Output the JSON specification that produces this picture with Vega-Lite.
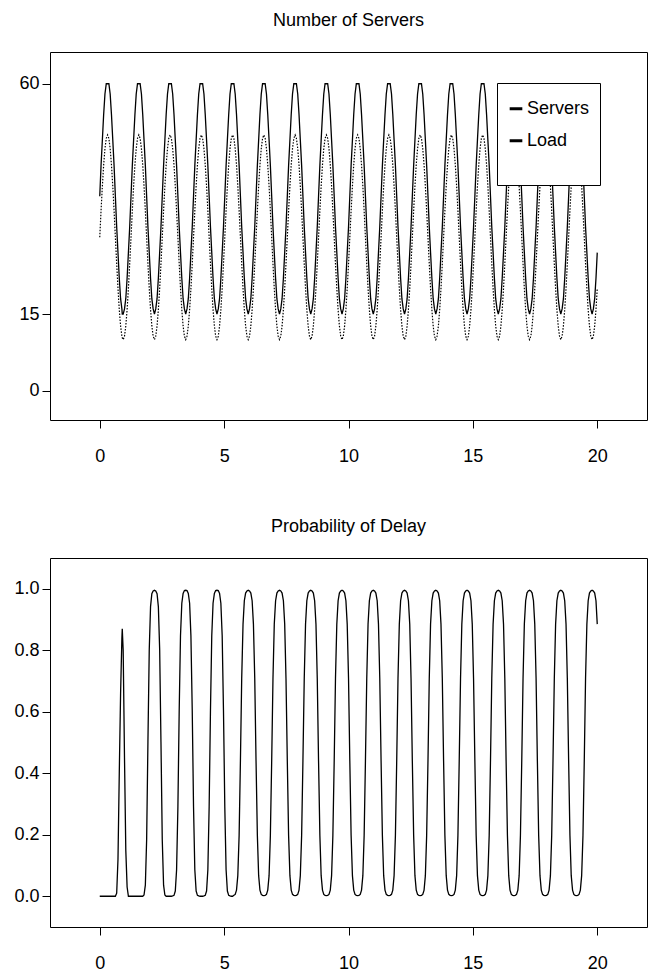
{
"$schema": "https://vega.github.io/schema/vega-lite/v6.json",
"background": "white",
"padding": {"left": 13, "top": 11, "right": 4, "bottom": 5},
"config": {
 "font": "Liberation Sans",
 "view": {"stroke": "black", "strokeWidth": 1},
 "axis": {"domain": false, "grid": false, "tickColor": "black", "tickSize": 8, "labelColor": "black", "labelFontSize": 18, "labelFont": "Liberation Sans", "title": null, "labelFlush": false},
 "axisX": {"labelPadding": 19},
 "axisY": {"labelPadding": 3},
 "title": {"fontSize": 18, "fontWeight": "normal", "color": "black", "offset": 22, "font": "Liberation Sans"}
},
"datasets": {"d": [
{"t":0,"Load":30,"Servers":38,"delay":0},
{"t":0.052,"Load":35.18,"Servers":44,"delay":0},
{"t":0.105,"Load":40,"Servers":49,"delay":0},
{"t":0.157,"Load":44.14,"Servers":54,"delay":0},
{"t":0.209,"Load":47.32,"Servers":58,"delay":0},
{"t":0.262,"Load":49.32,"Servers":60,"delay":0},
{"t":0.314,"Load":50,"Servers":60,"delay":0},
{"t":0.367,"Load":49.32,"Servers":60,"delay":0},
{"t":0.419,"Load":47.32,"Servers":58,"delay":0},
{"t":0.471,"Load":44.14,"Servers":54,"delay":0},
{"t":0.524,"Load":40,"Servers":49,"delay":0},
{"t":0.576,"Load":35.18,"Servers":44,"delay":0},
{"t":0.628,"Load":30,"Servers":38,"delay":0},
{"t":0.681,"Load":24.82,"Servers":32,"delay":0.01},
{"t":0.733,"Load":20,"Servers":27,"delay":0.12},
{"t":0.785,"Load":15.86,"Servers":22,"delay":0.4},
{"t":0.838,"Load":12.68,"Servers":18,"delay":0.66},
{"t":0.89,"Load":10.68,"Servers":16,"delay":0.84},
{"t":0.905,"Load":10.35,"Servers":15,"delay":0.87},
{"t":0.942,"Load":10,"Servers":15,"delay":0.8},
{"t":0.995,"Load":10.68,"Servers":16,"delay":0.45},
{"t":1.047,"Load":12.68,"Servers":18,"delay":0.15},
{"t":1.1,"Load":15.86,"Servers":22,"delay":0.03},
{"t":1.152,"Load":20,"Servers":27,"delay":0},
{"t":1.204,"Load":24.82,"Servers":32,"delay":0},
{"t":1.257,"Load":30,"Servers":38,"delay":0},
{"t":1.309,"Load":35.18,"Servers":44,"delay":0},
{"t":1.361,"Load":40,"Servers":49,"delay":0},
{"t":1.414,"Load":44.14,"Servers":54,"delay":0},
{"t":1.466,"Load":47.32,"Servers":58,"delay":0},
{"t":1.518,"Load":49.32,"Servers":60,"delay":0},
{"t":1.571,"Load":50,"Servers":60,"delay":0},
{"t":1.623,"Load":49.32,"Servers":60,"delay":0},
{"t":1.676,"Load":47.32,"Servers":58,"delay":0},
{"t":1.728,"Load":44.14,"Servers":54,"delay":0},
{"t":1.78,"Load":40,"Servers":49,"delay":0.004},
{"t":1.833,"Load":35.18,"Servers":44,"delay":0.036},
{"t":1.885,"Load":30,"Servers":38,"delay":0.184},
{"t":1.937,"Load":24.82,"Servers":32,"delay":0.502},
{"t":1.99,"Load":20,"Servers":27,"delay":0.802},
{"t":2.042,"Load":15.86,"Servers":22,"delay":0.942},
{"t":2.094,"Load":12.68,"Servers":18,"delay":0.984},
{"t":2.147,"Load":10.68,"Servers":16,"delay":0.993},
{"t":2.199,"Load":10,"Servers":15,"delay":0.995},
{"t":2.251,"Load":10.68,"Servers":16,"delay":0.993},
{"t":2.304,"Load":12.68,"Servers":18,"delay":0.984},
{"t":2.356,"Load":15.86,"Servers":22,"delay":0.942},
{"t":2.409,"Load":20,"Servers":27,"delay":0.802},
{"t":2.461,"Load":24.82,"Servers":32,"delay":0.502},
{"t":2.513,"Load":30,"Servers":38,"delay":0.184},
{"t":2.566,"Load":35.18,"Servers":44,"delay":0.036},
{"t":2.618,"Load":40,"Servers":49,"delay":0.004},
{"t":2.67,"Load":44.14,"Servers":54,"delay":0},
{"t":2.723,"Load":47.32,"Servers":58,"delay":0},
{"t":2.775,"Load":49.32,"Servers":60,"delay":0},
{"t":2.827,"Load":50,"Servers":60,"delay":0},
{"t":2.88,"Load":49.32,"Servers":60,"delay":0},
{"t":2.932,"Load":47.32,"Servers":58,"delay":0.001},
{"t":2.985,"Load":44.14,"Servers":54,"delay":0.003},
{"t":3.037,"Load":40,"Servers":49,"delay":0.017},
{"t":3.089,"Load":35.18,"Servers":44,"delay":0.086},
{"t":3.142,"Load":30,"Servers":38,"delay":0.291},
{"t":3.194,"Load":24.82,"Servers":32,"delay":0.605},
{"t":3.246,"Load":20,"Servers":27,"delay":0.847},
{"t":3.299,"Load":15.86,"Servers":22,"delay":0.953},
{"t":3.351,"Load":12.68,"Servers":18,"delay":0.985},
{"t":3.403,"Load":10.68,"Servers":16,"delay":0.994},
{"t":3.456,"Load":10,"Servers":15,"delay":0.995},
{"t":3.508,"Load":10.68,"Servers":16,"delay":0.994},
{"t":3.56,"Load":12.68,"Servers":18,"delay":0.985},
{"t":3.613,"Load":15.86,"Servers":22,"delay":0.953},
{"t":3.665,"Load":20,"Servers":27,"delay":0.847},
{"t":3.718,"Load":24.82,"Servers":32,"delay":0.605},
{"t":3.77,"Load":30,"Servers":38,"delay":0.291},
{"t":3.822,"Load":35.18,"Servers":44,"delay":0.086},
{"t":3.875,"Load":40,"Servers":49,"delay":0.017},
{"t":3.927,"Load":44.14,"Servers":54,"delay":0.003},
{"t":3.979,"Load":47.32,"Servers":58,"delay":0.001},
{"t":4.032,"Load":49.32,"Servers":60,"delay":0},
{"t":4.084,"Load":50,"Servers":60,"delay":0},
{"t":4.136,"Load":49.32,"Servers":60,"delay":0},
{"t":4.189,"Load":47.32,"Servers":58,"delay":0.001},
{"t":4.241,"Load":44.14,"Servers":54,"delay":0.003},
{"t":4.294,"Load":40,"Servers":49,"delay":0.017},
{"t":4.346,"Load":35.18,"Servers":44,"delay":0.086},
{"t":4.398,"Load":30,"Servers":38,"delay":0.291},
{"t":4.451,"Load":24.82,"Servers":32,"delay":0.605},
{"t":4.503,"Load":20,"Servers":27,"delay":0.847},
{"t":4.555,"Load":15.86,"Servers":22,"delay":0.953},
{"t":4.608,"Load":12.68,"Servers":18,"delay":0.985},
{"t":4.66,"Load":10.68,"Servers":16,"delay":0.994},
{"t":4.712,"Load":10,"Servers":15,"delay":0.995},
{"t":4.765,"Load":10.68,"Servers":16,"delay":0.994},
{"t":4.817,"Load":12.68,"Servers":18,"delay":0.985},
{"t":4.869,"Load":15.86,"Servers":22,"delay":0.953},
{"t":4.922,"Load":20,"Servers":27,"delay":0.847},
{"t":4.974,"Load":24.82,"Servers":32,"delay":0.605},
{"t":5.027,"Load":30,"Servers":38,"delay":0.291},
{"t":5.079,"Load":35.18,"Servers":44,"delay":0.086},
{"t":5.131,"Load":40,"Servers":49,"delay":0.017},
{"t":5.184,"Load":44.14,"Servers":54,"delay":0.003},
{"t":5.236,"Load":47.32,"Servers":58,"delay":0.001},
{"t":5.288,"Load":49.32,"Servers":60,"delay":0},
{"t":5.341,"Load":50,"Servers":60,"delay":0},
{"t":5.393,"Load":49.32,"Servers":60,"delay":0.003},
{"t":5.445,"Load":47.32,"Servers":58,"delay":0.006},
{"t":5.498,"Load":44.14,"Servers":54,"delay":0.02},
{"t":5.55,"Load":40,"Servers":49,"delay":0.067},
{"t":5.603,"Load":35.18,"Servers":44,"delay":0.198},
{"t":5.655,"Load":30,"Servers":38,"delay":0.44},
{"t":5.707,"Load":24.82,"Servers":32,"delay":0.709},
{"t":5.76,"Load":20,"Servers":27,"delay":0.885},
{"t":5.812,"Load":15.86,"Servers":22,"delay":0.961},
{"t":5.864,"Load":12.68,"Servers":18,"delay":0.986},
{"t":5.917,"Load":10.68,"Servers":16,"delay":0.993},
{"t":5.969,"Load":10,"Servers":15,"delay":0.995},
{"t":6.021,"Load":10.68,"Servers":16,"delay":0.993},
{"t":6.074,"Load":12.68,"Servers":18,"delay":0.986},
{"t":6.126,"Load":15.86,"Servers":22,"delay":0.961},
{"t":6.178,"Load":20,"Servers":27,"delay":0.885},
{"t":6.231,"Load":24.82,"Servers":32,"delay":0.709},
{"t":6.283,"Load":30,"Servers":38,"delay":0.44},
{"t":6.336,"Load":35.18,"Servers":44,"delay":0.198},
{"t":6.388,"Load":40,"Servers":49,"delay":0.067},
{"t":6.44,"Load":44.14,"Servers":54,"delay":0.02},
{"t":6.493,"Load":47.32,"Servers":58,"delay":0.006},
{"t":6.545,"Load":49.32,"Servers":60,"delay":0.003},
{"t":6.597,"Load":50,"Servers":60,"delay":0.002},
{"t":6.65,"Load":49.32,"Servers":60,"delay":0.003},
{"t":6.702,"Load":47.32,"Servers":58,"delay":0.006},
{"t":6.754,"Load":44.14,"Servers":54,"delay":0.02},
{"t":6.807,"Load":40,"Servers":49,"delay":0.067},
{"t":6.859,"Load":35.18,"Servers":44,"delay":0.198},
{"t":6.912,"Load":30,"Servers":38,"delay":0.44},
{"t":6.964,"Load":24.82,"Servers":32,"delay":0.709},
{"t":7.016,"Load":20,"Servers":27,"delay":0.885},
{"t":7.069,"Load":15.86,"Servers":22,"delay":0.961},
{"t":7.121,"Load":12.68,"Servers":18,"delay":0.986},
{"t":7.173,"Load":10.68,"Servers":16,"delay":0.993},
{"t":7.226,"Load":10,"Servers":15,"delay":0.995},
{"t":7.278,"Load":10.68,"Servers":16,"delay":0.993},
{"t":7.33,"Load":12.68,"Servers":18,"delay":0.986},
{"t":7.383,"Load":15.86,"Servers":22,"delay":0.961},
{"t":7.435,"Load":20,"Servers":27,"delay":0.885},
{"t":7.487,"Load":24.82,"Servers":32,"delay":0.709},
{"t":7.54,"Load":30,"Servers":38,"delay":0.44},
{"t":7.592,"Load":35.18,"Servers":44,"delay":0.198},
{"t":7.645,"Load":40,"Servers":49,"delay":0.067},
{"t":7.697,"Load":44.14,"Servers":54,"delay":0.02},
{"t":7.749,"Load":47.32,"Servers":58,"delay":0.006},
{"t":7.802,"Load":49.32,"Servers":60,"delay":0.003},
{"t":7.854,"Load":50,"Servers":60,"delay":0.002},
{"t":7.906,"Load":49.32,"Servers":60,"delay":0.003},
{"t":7.959,"Load":47.32,"Servers":58,"delay":0.006},
{"t":8.011,"Load":44.14,"Servers":54,"delay":0.02},
{"t":8.063,"Load":40,"Servers":49,"delay":0.067},
{"t":8.116,"Load":35.18,"Servers":44,"delay":0.198},
{"t":8.168,"Load":30,"Servers":38,"delay":0.44},
{"t":8.221,"Load":24.82,"Servers":32,"delay":0.709},
{"t":8.273,"Load":20,"Servers":27,"delay":0.885},
{"t":8.325,"Load":15.86,"Servers":22,"delay":0.961},
{"t":8.378,"Load":12.68,"Servers":18,"delay":0.986},
{"t":8.43,"Load":10.68,"Servers":16,"delay":0.993},
{"t":8.482,"Load":10,"Servers":15,"delay":0.995},
{"t":8.535,"Load":10.68,"Servers":16,"delay":0.993},
{"t":8.587,"Load":12.68,"Servers":18,"delay":0.986},
{"t":8.639,"Load":15.86,"Servers":22,"delay":0.961},
{"t":8.692,"Load":20,"Servers":27,"delay":0.885},
{"t":8.744,"Load":24.82,"Servers":32,"delay":0.709},
{"t":8.796,"Load":30,"Servers":38,"delay":0.44},
{"t":8.849,"Load":35.18,"Servers":44,"delay":0.198},
{"t":8.901,"Load":40,"Servers":49,"delay":0.067},
{"t":8.954,"Load":44.14,"Servers":54,"delay":0.02},
{"t":9.006,"Load":47.32,"Servers":58,"delay":0.006},
{"t":9.058,"Load":49.32,"Servers":60,"delay":0.003},
{"t":9.111,"Load":50,"Servers":60,"delay":0.002},
{"t":9.163,"Load":49.32,"Servers":60,"delay":0.003},
{"t":9.215,"Load":47.32,"Servers":58,"delay":0.006},
{"t":9.268,"Load":44.14,"Servers":54,"delay":0.02},
{"t":9.32,"Load":40,"Servers":49,"delay":0.067},
{"t":9.372,"Load":35.18,"Servers":44,"delay":0.198},
{"t":9.425,"Load":30,"Servers":38,"delay":0.44},
{"t":9.477,"Load":24.82,"Servers":32,"delay":0.709},
{"t":9.53,"Load":20,"Servers":27,"delay":0.885},
{"t":9.582,"Load":15.86,"Servers":22,"delay":0.961},
{"t":9.634,"Load":12.68,"Servers":18,"delay":0.986},
{"t":9.687,"Load":10.68,"Servers":16,"delay":0.993},
{"t":9.739,"Load":10,"Servers":15,"delay":0.995},
{"t":9.791,"Load":10.68,"Servers":16,"delay":0.993},
{"t":9.844,"Load":12.68,"Servers":18,"delay":0.986},
{"t":9.896,"Load":15.86,"Servers":22,"delay":0.961},
{"t":9.948,"Load":20,"Servers":27,"delay":0.885},
{"t":10.001,"Load":24.82,"Servers":32,"delay":0.709},
{"t":10.053,"Load":30,"Servers":38,"delay":0.44},
{"t":10.105,"Load":35.18,"Servers":44,"delay":0.198},
{"t":10.158,"Load":40,"Servers":49,"delay":0.067},
{"t":10.21,"Load":44.14,"Servers":54,"delay":0.02},
{"t":10.263,"Load":47.32,"Servers":58,"delay":0.006},
{"t":10.315,"Load":49.32,"Servers":60,"delay":0.003},
{"t":10.367,"Load":50,"Servers":60,"delay":0.002},
{"t":10.42,"Load":49.32,"Servers":60,"delay":0.003},
{"t":10.472,"Load":47.32,"Servers":58,"delay":0.006},
{"t":10.524,"Load":44.14,"Servers":54,"delay":0.02},
{"t":10.577,"Load":40,"Servers":49,"delay":0.067},
{"t":10.629,"Load":35.18,"Servers":44,"delay":0.198},
{"t":10.681,"Load":30,"Servers":38,"delay":0.44},
{"t":10.734,"Load":24.82,"Servers":32,"delay":0.709},
{"t":10.786,"Load":20,"Servers":27,"delay":0.885},
{"t":10.839,"Load":15.86,"Servers":22,"delay":0.961},
{"t":10.891,"Load":12.68,"Servers":18,"delay":0.986},
{"t":10.943,"Load":10.68,"Servers":16,"delay":0.993},
{"t":10.996,"Load":10,"Servers":15,"delay":0.995},
{"t":11.048,"Load":10.68,"Servers":16,"delay":0.993},
{"t":11.1,"Load":12.68,"Servers":18,"delay":0.986},
{"t":11.153,"Load":15.86,"Servers":22,"delay":0.961},
{"t":11.205,"Load":20,"Servers":27,"delay":0.885},
{"t":11.257,"Load":24.82,"Servers":32,"delay":0.709},
{"t":11.31,"Load":30,"Servers":38,"delay":0.44},
{"t":11.362,"Load":35.18,"Servers":44,"delay":0.198},
{"t":11.414,"Load":40,"Servers":49,"delay":0.067},
{"t":11.467,"Load":44.14,"Servers":54,"delay":0.02},
{"t":11.519,"Load":47.32,"Servers":58,"delay":0.006},
{"t":11.572,"Load":49.32,"Servers":60,"delay":0.003},
{"t":11.624,"Load":50,"Servers":60,"delay":0.002},
{"t":11.676,"Load":49.32,"Servers":60,"delay":0.003},
{"t":11.729,"Load":47.32,"Servers":58,"delay":0.006},
{"t":11.781,"Load":44.14,"Servers":54,"delay":0.02},
{"t":11.833,"Load":40,"Servers":49,"delay":0.067},
{"t":11.886,"Load":35.18,"Servers":44,"delay":0.198},
{"t":11.938,"Load":30,"Servers":38,"delay":0.44},
{"t":11.99,"Load":24.82,"Servers":32,"delay":0.709},
{"t":12.043,"Load":20,"Servers":27,"delay":0.885},
{"t":12.095,"Load":15.86,"Servers":22,"delay":0.961},
{"t":12.147,"Load":12.68,"Servers":18,"delay":0.986},
{"t":12.2,"Load":10.68,"Servers":16,"delay":0.993},
{"t":12.252,"Load":10,"Servers":15,"delay":0.995},
{"t":12.305,"Load":10.68,"Servers":16,"delay":0.993},
{"t":12.357,"Load":12.68,"Servers":18,"delay":0.986},
{"t":12.409,"Load":15.86,"Servers":22,"delay":0.961},
{"t":12.462,"Load":20,"Servers":27,"delay":0.885},
{"t":12.514,"Load":24.82,"Servers":32,"delay":0.709},
{"t":12.566,"Load":30,"Servers":38,"delay":0.44},
{"t":12.619,"Load":35.18,"Servers":44,"delay":0.198},
{"t":12.671,"Load":40,"Servers":49,"delay":0.067},
{"t":12.723,"Load":44.14,"Servers":54,"delay":0.02},
{"t":12.776,"Load":47.32,"Servers":58,"delay":0.006},
{"t":12.828,"Load":49.32,"Servers":60,"delay":0.003},
{"t":12.881,"Load":50,"Servers":60,"delay":0.002},
{"t":12.933,"Load":49.32,"Servers":60,"delay":0.003},
{"t":12.985,"Load":47.32,"Servers":58,"delay":0.006},
{"t":13.038,"Load":44.14,"Servers":54,"delay":0.02},
{"t":13.09,"Load":40,"Servers":49,"delay":0.067},
{"t":13.142,"Load":35.18,"Servers":44,"delay":0.198},
{"t":13.195,"Load":30,"Servers":38,"delay":0.44},
{"t":13.247,"Load":24.82,"Servers":32,"delay":0.709},
{"t":13.299,"Load":20,"Servers":27,"delay":0.885},
{"t":13.352,"Load":15.86,"Servers":22,"delay":0.961},
{"t":13.404,"Load":12.68,"Servers":18,"delay":0.986},
{"t":13.456,"Load":10.68,"Servers":16,"delay":0.993},
{"t":13.509,"Load":10,"Servers":15,"delay":0.995},
{"t":13.561,"Load":10.68,"Servers":16,"delay":0.993},
{"t":13.614,"Load":12.68,"Servers":18,"delay":0.986},
{"t":13.666,"Load":15.86,"Servers":22,"delay":0.961},
{"t":13.718,"Load":20,"Servers":27,"delay":0.885},
{"t":13.771,"Load":24.82,"Servers":32,"delay":0.709},
{"t":13.823,"Load":30,"Servers":38,"delay":0.44},
{"t":13.875,"Load":35.18,"Servers":44,"delay":0.198},
{"t":13.928,"Load":40,"Servers":49,"delay":0.067},
{"t":13.98,"Load":44.14,"Servers":54,"delay":0.02},
{"t":14.032,"Load":47.32,"Servers":58,"delay":0.006},
{"t":14.085,"Load":49.32,"Servers":60,"delay":0.003},
{"t":14.137,"Load":50,"Servers":60,"delay":0.002},
{"t":14.19,"Load":49.32,"Servers":60,"delay":0.003},
{"t":14.242,"Load":47.32,"Servers":58,"delay":0.006},
{"t":14.294,"Load":44.14,"Servers":54,"delay":0.02},
{"t":14.347,"Load":40,"Servers":49,"delay":0.067},
{"t":14.399,"Load":35.18,"Servers":44,"delay":0.198},
{"t":14.451,"Load":30,"Servers":38,"delay":0.44},
{"t":14.504,"Load":24.82,"Servers":32,"delay":0.709},
{"t":14.556,"Load":20,"Servers":27,"delay":0.885},
{"t":14.608,"Load":15.86,"Servers":22,"delay":0.961},
{"t":14.661,"Load":12.68,"Servers":18,"delay":0.986},
{"t":14.713,"Load":10.68,"Servers":16,"delay":0.993},
{"t":14.765,"Load":10,"Servers":15,"delay":0.995},
{"t":14.818,"Load":10.68,"Servers":16,"delay":0.993},
{"t":14.87,"Load":12.68,"Servers":18,"delay":0.986},
{"t":14.923,"Load":15.86,"Servers":22,"delay":0.961},
{"t":14.975,"Load":20,"Servers":27,"delay":0.885},
{"t":15.027,"Load":24.82,"Servers":32,"delay":0.709},
{"t":15.08,"Load":30,"Servers":38,"delay":0.44},
{"t":15.132,"Load":35.18,"Servers":44,"delay":0.198},
{"t":15.184,"Load":40,"Servers":49,"delay":0.067},
{"t":15.237,"Load":44.14,"Servers":54,"delay":0.02},
{"t":15.289,"Load":47.32,"Servers":58,"delay":0.006},
{"t":15.341,"Load":49.32,"Servers":60,"delay":0.003},
{"t":15.394,"Load":50,"Servers":60,"delay":0.002},
{"t":15.446,"Load":49.32,"Servers":60,"delay":0.003},
{"t":15.499,"Load":47.32,"Servers":58,"delay":0.006},
{"t":15.551,"Load":44.14,"Servers":54,"delay":0.02},
{"t":15.603,"Load":40,"Servers":49,"delay":0.067},
{"t":15.656,"Load":35.18,"Servers":44,"delay":0.198},
{"t":15.708,"Load":30,"Servers":38,"delay":0.44},
{"t":15.76,"Load":24.82,"Servers":32,"delay":0.709},
{"t":15.813,"Load":20,"Servers":27,"delay":0.885},
{"t":15.865,"Load":15.86,"Servers":22,"delay":0.961},
{"t":15.917,"Load":12.68,"Servers":18,"delay":0.986},
{"t":15.97,"Load":10.68,"Servers":16,"delay":0.993},
{"t":16.022,"Load":10,"Servers":15,"delay":0.995},
{"t":16.074,"Load":10.68,"Servers":16,"delay":0.993},
{"t":16.127,"Load":12.68,"Servers":18,"delay":0.986},
{"t":16.179,"Load":15.86,"Servers":22,"delay":0.961},
{"t":16.232,"Load":20,"Servers":27,"delay":0.885},
{"t":16.284,"Load":24.82,"Servers":32,"delay":0.709},
{"t":16.336,"Load":30,"Servers":38,"delay":0.44},
{"t":16.389,"Load":35.18,"Servers":44,"delay":0.198},
{"t":16.441,"Load":40,"Servers":49,"delay":0.067},
{"t":16.493,"Load":44.14,"Servers":54,"delay":0.02},
{"t":16.546,"Load":47.32,"Servers":58,"delay":0.006},
{"t":16.598,"Load":49.32,"Servers":60,"delay":0.003},
{"t":16.65,"Load":50,"Servers":60,"delay":0.002},
{"t":16.703,"Load":49.32,"Servers":60,"delay":0.003},
{"t":16.755,"Load":47.32,"Servers":58,"delay":0.006},
{"t":16.808,"Load":44.14,"Servers":54,"delay":0.02},
{"t":16.86,"Load":40,"Servers":49,"delay":0.067},
{"t":16.912,"Load":35.18,"Servers":44,"delay":0.198},
{"t":16.965,"Load":30,"Servers":38,"delay":0.44},
{"t":17.017,"Load":24.82,"Servers":32,"delay":0.709},
{"t":17.069,"Load":20,"Servers":27,"delay":0.885},
{"t":17.122,"Load":15.86,"Servers":22,"delay":0.961},
{"t":17.174,"Load":12.68,"Servers":18,"delay":0.986},
{"t":17.226,"Load":10.68,"Servers":16,"delay":0.993},
{"t":17.279,"Load":10,"Servers":15,"delay":0.995},
{"t":17.331,"Load":10.68,"Servers":16,"delay":0.993},
{"t":17.383,"Load":12.68,"Servers":18,"delay":0.986},
{"t":17.436,"Load":15.86,"Servers":22,"delay":0.961},
{"t":17.488,"Load":20,"Servers":27,"delay":0.885},
{"t":17.541,"Load":24.82,"Servers":32,"delay":0.709},
{"t":17.593,"Load":30,"Servers":38,"delay":0.44},
{"t":17.645,"Load":35.18,"Servers":44,"delay":0.198},
{"t":17.698,"Load":40,"Servers":49,"delay":0.067},
{"t":17.75,"Load":44.14,"Servers":54,"delay":0.02},
{"t":17.802,"Load":47.32,"Servers":58,"delay":0.006},
{"t":17.855,"Load":49.32,"Servers":60,"delay":0.003},
{"t":17.907,"Load":50,"Servers":60,"delay":0.002},
{"t":17.959,"Load":49.32,"Servers":60,"delay":0.003},
{"t":18.012,"Load":47.32,"Servers":58,"delay":0.006},
{"t":18.064,"Load":44.14,"Servers":54,"delay":0.02},
{"t":18.117,"Load":40,"Servers":49,"delay":0.067},
{"t":18.169,"Load":35.18,"Servers":44,"delay":0.198},
{"t":18.221,"Load":30,"Servers":38,"delay":0.44},
{"t":18.274,"Load":24.82,"Servers":32,"delay":0.709},
{"t":18.326,"Load":20,"Servers":27,"delay":0.885},
{"t":18.378,"Load":15.86,"Servers":22,"delay":0.961},
{"t":18.431,"Load":12.68,"Servers":18,"delay":0.986},
{"t":18.483,"Load":10.68,"Servers":16,"delay":0.993},
{"t":18.535,"Load":10,"Servers":15,"delay":0.995},
{"t":18.588,"Load":10.68,"Servers":16,"delay":0.993},
{"t":18.64,"Load":12.68,"Servers":18,"delay":0.986},
{"t":18.692,"Load":15.86,"Servers":22,"delay":0.961},
{"t":18.745,"Load":20,"Servers":27,"delay":0.885},
{"t":18.797,"Load":24.82,"Servers":32,"delay":0.709},
{"t":18.85,"Load":30,"Servers":38,"delay":0.44},
{"t":18.902,"Load":35.18,"Servers":44,"delay":0.198},
{"t":18.954,"Load":40,"Servers":49,"delay":0.067},
{"t":19.007,"Load":44.14,"Servers":54,"delay":0.02},
{"t":19.059,"Load":47.32,"Servers":58,"delay":0.006},
{"t":19.111,"Load":49.32,"Servers":60,"delay":0.003},
{"t":19.164,"Load":50,"Servers":60,"delay":0.002},
{"t":19.216,"Load":49.32,"Servers":60,"delay":0.003},
{"t":19.268,"Load":47.32,"Servers":58,"delay":0.006},
{"t":19.321,"Load":44.14,"Servers":54,"delay":0.02},
{"t":19.373,"Load":40,"Servers":49,"delay":0.067},
{"t":19.426,"Load":35.18,"Servers":44,"delay":0.198},
{"t":19.478,"Load":30,"Servers":38,"delay":0.44},
{"t":19.53,"Load":24.82,"Servers":32,"delay":0.709},
{"t":19.583,"Load":20,"Servers":27,"delay":0.885},
{"t":19.635,"Load":15.86,"Servers":22,"delay":0.961},
{"t":19.687,"Load":12.68,"Servers":18,"delay":0.986},
{"t":19.74,"Load":10.68,"Servers":16,"delay":0.993},
{"t":19.792,"Load":10,"Servers":15,"delay":0.995},
{"t":19.844,"Load":10.68,"Servers":16,"delay":0.993},
{"t":19.897,"Load":12.68,"Servers":18,"delay":0.986},
{"t":19.949,"Load":15.86,"Servers":22,"delay":0.961},
{"t":20,"Load":20,"Servers":27,"delay":0.885}
]},
"spacing": 138,
"bounds": "flush",
"vconcat": [
 {
  "title": "Number of Servers",
  "width": 597,
  "height": 368,
  "data": {"name": "d"},
  "transform": [{"fold": ["Servers", "Load"], "as": ["series", "value"]}],
  "encoding": {
   "x": {"field": "t", "type": "quantitative", "scale": {"domain": [-2, 22], "nice": false, "zero": false}, "axis": {"values": [0, 5, 10, 15, 20]}},
   "y": {"field": "value", "type": "quantitative", "scale": {"domain": [-5.7, 66.2], "nice": false, "zero": false}, "axis": {"values": [0, 15, 60]}},
   "color": {"field": "series", "type": "nominal", "sort": ["Servers", "Load"], "scale": {"domain": ["Servers", "Load"], "range": ["black", "black"]},
     "legend": {"title": " ", "titleOrient": "bottom", "titleFontSize": 15, "titlePadding": 3, "orient": "none", "legendX": 447, "legendY": 31, "strokeColor": "black", "fillColor": "white", "padding": 10, "labelFontSize": 18, "labelFont": "Liberation Sans", "labelColor": "black", "labelOffset": 2, "symbolType": "stroke", "symbolStrokeWidth": 3, "symbolSize": 160, "symbolDash": [1, 0], "clipHeight": 31.7, "rowPadding": 0}}
  },
  "layer": [
   {"transform": [{"filter": "datum.series == 'Servers'"}], "mark": {"type": "line", "strokeWidth": 1.3}},
   {"transform": [{"filter": "datum.series == 'Load'"}], "mark": {"type": "line", "strokeWidth": 1.2, "strokeDash": [1.5, 1.5]}}
  ]
 },
 {
  "title": "Probability of Delay",
  "width": 597,
  "height": 369,
  "data": {"name": "d"},
  "mark": {"type": "line", "strokeWidth": 1.3, "color": "black"},
  "encoding": {
   "x": {"field": "t", "type": "quantitative", "scale": {"domain": [-2, 22], "nice": false, "zero": false}, "axis": {"values": [0, 5, 10, 15, 20]}},
   "y": {"field": "delay", "type": "quantitative", "scale": {"domain": [-0.1, 1.1], "nice": false, "zero": false}, "axis": {"values": [0, 0.2, 0.4, 0.6, 0.8, 1.0], "format": ".1f"}}
  }
 }
]
}
